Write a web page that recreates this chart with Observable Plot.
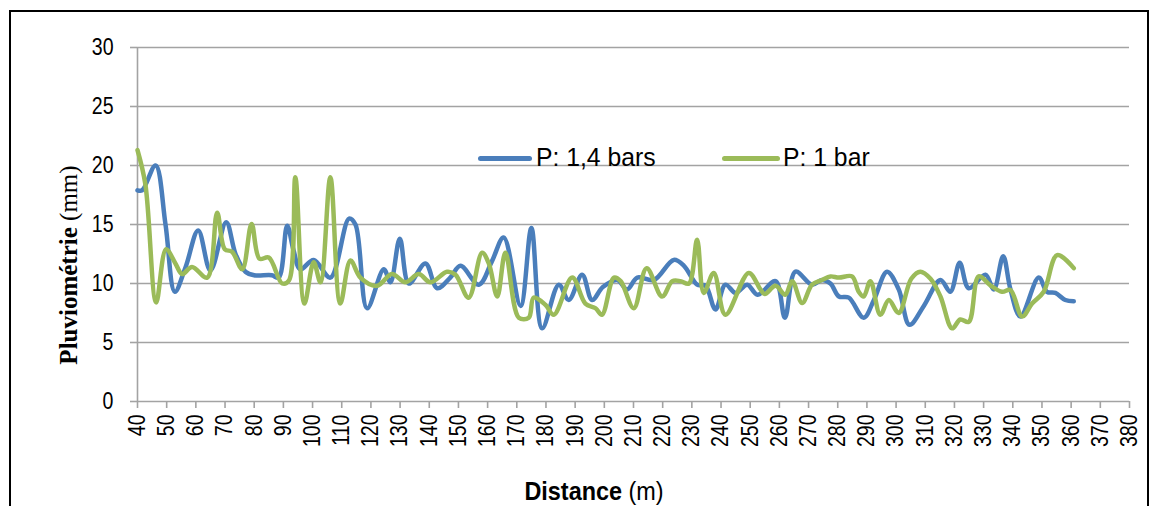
<!DOCTYPE html>
<html><head><meta charset="utf-8">
<script src="https://cdn.jsdelivr.net/npm/d3@7"></script>
<script src="https://cdn.jsdelivr.net/npm/@observablehq/plot@0.6"></script>
<style>
body{margin:0;background:#fff;}
#wrap{position:relative;width:1154px;height:506px;overflow:hidden;background:#fff;}
#frame{position:absolute;left:9px;top:10px;width:1136px;height:600px;border:2.5px solid #000;pointer-events:none;}
.lg{position:absolute;font-family:"Liberation Sans Narrow","Arial Narrow","Liberation Sans",sans-serif;font-size:25.5px;color:#000;line-height:1;white-space:nowrap;transform-origin:0 50%;transform:scaleX(0.97);}
.sw{position:absolute;height:5px;border-radius:2.5px;}
#ylab{position:absolute;left:69px;top:265px;transform:translate(-50%,-50%) rotate(-90deg);font-family:"Liberation Serif","Times New Roman",serif;font-size:25px;white-space:nowrap;}
#xlab{position:absolute;left:594px;top:491px;transform:translate(-50%,-50%) scaleX(0.9);font-family:"Liberation Sans Narrow","Arial Narrow","Liberation Sans",sans-serif;font-size:26px;white-space:nowrap;}
</style></head>
<body>
<div id="wrap"></div>
<script>
const seriesNames = ["P: 1,4 bars", "P: 1 bar"];
const seriesColors = ["#4a7ebb", "#9bbb59"];
const xTicks = d3.range(40, 381, 10);
const yTicks = [0, 5, 10, 15, 20, 25, 30];

const blueDist = [40, 41.6, 46.2, 49.6, 52.8, 56.5, 60.8, 65, 70.4, 73.6, 77, 80, 86, 88.4, 91.3, 93.5, 95.8, 100.4, 106.1, 112.5, 114.7, 118.7, 124.4, 126.7, 129.9, 133, 138.7, 142.7, 147.2, 150.7, 157, 161.5, 165.5, 171.3, 175, 178.7, 184.4, 187.8, 192.4, 195.8, 199.5, 204.4, 207.8, 211.3, 217, 223.8, 227.3, 231.8, 234.7, 238.1, 241.5, 245, 249, 252.5, 258.7, 261.9, 265.5, 271.2, 274.6, 277.5, 280.4, 283.8, 288.9, 292.4, 296.9, 300.9, 304.6, 309.5, 315.2, 318.6, 321.8, 324.9, 330.6, 333.5, 336.7, 339.2, 342.6, 348.9, 351.7, 354.6, 358, 360.9];
const blueVal = [17.9, 17.9, 20.0, 15.0, 9.3, 11.4, 14.5, 11.1, 15.2, 12.5, 11.0, 10.7, 10.7, 10.5, 14.9, 12.8, 11.2, 12.0, 10.5, 15.5, 15.0, 7.9, 11.2, 10.1, 13.8, 10.0, 11.7, 9.6, 10.5, 11.5, 9.9, 11.9, 13.9, 8.1, 14.7, 6.2, 9.9, 8.6, 10.75, 8.6, 9.7, 10.3, 9.5, 10.5, 10.3, 12.0, 11.5, 9.9, 9.8, 7.8, 9.9, 9.2, 9.9, 9.05, 10.2, 7.1, 11.0, 9.9, 10.3, 10.0, 8.9, 8.8, 7.1, 8.6, 11.0, 9.5, 6.5, 8.1, 10.3, 9.3, 11.75, 9.6, 10.75, 9.5, 12.3, 9.5, 7.2, 10.5, 9.3, 9.2, 8.6, 8.5];

const greenDist = [40, 42.7, 46.4, 49.8, 53, 55.3, 58.7, 63.9, 67.3, 69.9, 72.4, 75.9, 79.1, 81.8, 85, 89.6, 91.9, 94.1, 97.2, 100.4, 102.7, 106.1, 109.5, 113, 116.4, 122.1, 127.2, 131.8, 136.4, 140.4, 146.1, 149, 153.5, 158.1, 160.4, 163.3, 166.1, 170.7, 174.1, 175.8, 179.8, 182.7, 189, 193.5, 197, 199.2, 203.3, 205.6, 210.1, 214.5, 219.8, 223.3, 226.1, 229, 231.8, 234.1, 237.5, 241.5, 249.5, 253.5, 255, 258.7, 262, 264.4, 267.8, 271.2, 274.6, 277.5, 280.4, 284.9, 287.2, 288.9, 291.2, 294.6, 297.5, 300.9, 305.2, 308.3, 311.8, 315.2, 319.2, 322, 324.9, 328.3, 332.3, 336.3, 339.2, 343.2, 346.6, 350.6, 355.2, 360.9];
const greenVal = [21.3, 18.4, 8.4, 12.9, 11.7, 10.8, 11.4, 10.5, 16.0, 12.9, 12.7, 11.2, 15.05, 12.1, 12.2, 10.0, 10.25, 19.0, 8.3, 11.8, 10.1, 19.0, 8.3, 11.95, 10.5, 9.8, 10.8, 10.1, 10.8, 10.1, 11.0, 10.75, 8.8, 12.6, 11.7, 8.9, 12.6, 7.1, 7.1, 8.8, 8.2, 7.35, 10.5, 8.3, 7.9, 7.35, 10.5, 10.2, 7.9, 11.3, 8.9, 10.2, 10.2, 10.0, 13.7, 9.2, 10.9, 7.35, 10.9, 9.5, 9.1, 9.8, 9.05, 10.2, 8.35, 9.9, 10.3, 10.6, 10.5, 10.6, 9.3, 8.9, 10.2, 7.35, 8.6, 7.5, 10.4, 11.0, 10.4, 8.9, 6.2, 6.95, 6.75, 10.6, 9.85, 9.3, 9.45, 7.2, 8.3, 9.3, 12.4, 11.3];

const blue = blueDist.map((d, i) => ({d, v: blueVal[i]}));
const green = greenDist.map((d, i) => ({d, v: greenVal[i]}));

const narrow = '"Liberation Sans Narrow","Arial Narrow","Liberation Sans",sans-serif';
const grid = "#a3a3a3";

const chart = Plot.plot({
  width: 1154,
  height: 506,
  marginLeft: 137,
  marginRight: 25,
  marginTop: 47,
  marginBottom: 105,
  style: {fontFamily: narrow, fontSize: "23px", color: "#000", background: "transparent", overflow: "visible"},
  x: {domain: [40, 380], ticks: xTicks},
  y: {domain: [0, 30], ticks: yTicks},
  marks: [
    Plot.gridY(yTicks, {stroke: grid, strokeOpacity: 1, strokeWidth: 1.6}),
    Plot.axisY(yTicks, {tickSize: 7, tickPadding: 17, stroke: grid, strokeWidth: 1.6, label: null, fill: "#000", fontSize: 23, tickFormat: d => String(d)}),
    Plot.ruleX([40], {stroke: grid, strokeWidth: 1.6}),
    Plot.axisX(xTicks, {tickSize: 7, tickPadding: 6, tickRotate: -90, stroke: grid, strokeWidth: 1.6, label: null, fill: "#000", fontSize: 23, tickFormat: d => String(d)}),
    Plot.line(blue, {x: "d", y: "v", stroke: seriesColors[0], strokeWidth: 4.5, curve: "catmull-rom"}),
    Plot.line(green, {x: "d", y: "v", stroke: seriesColors[1], strokeWidth: 4.5, curve: "catmull-rom"})
  ]
});

// emulate a narrow face on the axis tick labels (scale along the text direction only)
const sx = 0.85;
chart.querySelectorAll('g[aria-label$="tick label"] text').forEach(t => {
  const xa = t.getAttribute("x");
  if (xa !== null && !isNaN(+xa)) t.setAttribute("x", +xa / sx);
  const tr = t.getAttribute("transform") || "";
  t.setAttribute("transform", `${tr} scale(${sx},1)`);
});

const wrap = document.getElementById("wrap");
wrap.appendChild(chart);

const frame = document.createElement("div"); frame.id = "frame"; wrap.appendChild(frame);

// legend
const legendPos = [{sx: 478, sw: 54, tx: 536}, {sx: 722, sw: 58, tx: 783}];
seriesNames.forEach((name, i) => {
  const sw = document.createElement("div");
  sw.className = "sw";
  sw.style.left = legendPos[i].sx + "px"; sw.style.top = "155.5px"; sw.style.width = legendPos[i].sw + "px";
  sw.style.background = seriesColors[i];
  wrap.appendChild(sw);
  const t = document.createElement("div");
  t.className = "lg"; t.textContent = name;
  t.style.left = legendPos[i].tx + "px"; t.style.top = "145px";
  wrap.appendChild(t);
});

const yl = document.createElement("div"); yl.id = "ylab";
yl.innerHTML = "<b>Pluviométrie</b> (mm)"; wrap.appendChild(yl);
const xl = document.createElement("div"); xl.id = "xlab";
xl.innerHTML = "<b>Distance</b> (m)"; wrap.appendChild(xl);
</script>
</body></html>
